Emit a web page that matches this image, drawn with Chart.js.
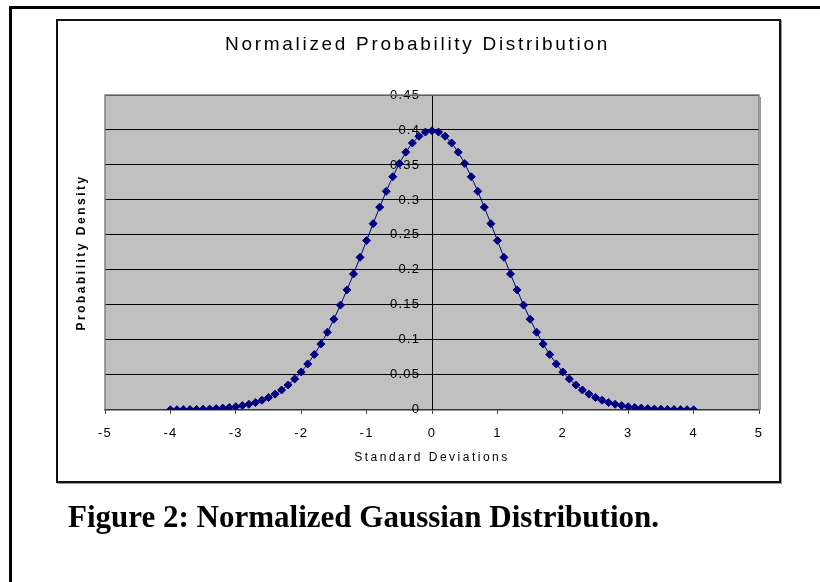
<!DOCTYPE html>
<html>
<head>
<meta charset="utf-8">
<title>Normalized Probability Distribution</title>
<script src="https://cdn.jsdelivr.net/npm/chart.js@4.4.1/dist/chart.umd.min.js"></script>
<style>
  html, body { margin: 0; padding: 0; background: #fff; }
  body { width: 820px; height: 582px; position: relative; overflow: hidden; }
  #outer { position: absolute; left: 9px; top: 6px; width: 830px; height: 600px;
           border-left: 3px solid #000; border-top: 3px solid #000; }
  #frame { position: absolute; left: 56px; top: 19px; width: 721px; height: 460px;
           border: 2px solid #111; box-shadow: 1px 1px 0 #999; }
  #caption { position: absolute; left: 68px; top: 499px; font: bold 31px 'Liberation Serif', 'Times New Roman', serif;
             white-space: nowrap; color: #000; }
  #chart { position: absolute; left: 0; top: 0; }
</style>
</head>
<body>
<div id="outer"></div>
<div id="frame"></div>
<canvas id="chart" width="820" height="582"></canvas>
<div id="caption">Figure 2: Normalized Gaussian Distribution.</div>

<script>
// standard deviations (x) and probability density (y)
const stdDevs = [
  -4.0, -3.9, -3.8, -3.7, -3.6, -3.5, -3.4, -3.3, -3.2, -3.1,
  -3.0, -2.9, -2.8, -2.7, -2.6, -2.5, -2.4, -2.3, -2.2, -2.1,
  -2.0, -1.9, -1.8, -1.7, -1.6, -1.5, -1.4, -1.3, -1.2, -1.1,
  -1.0, -0.9, -0.8, -0.7, -0.6, -0.5, -0.4, -0.3, -0.2, -0.1,
  0.0, 0.1, 0.2, 0.3, 0.4, 0.5, 0.6, 0.7, 0.8, 0.9,
  1.0, 1.1, 1.2, 1.3, 1.4, 1.5, 1.6, 1.7, 1.8, 1.9,
  2.0, 2.1, 2.2, 2.3, 2.4, 2.5, 2.6, 2.7, 2.8, 2.9,
  3.0, 3.1, 3.2, 3.3, 3.4, 3.5, 3.6, 3.7, 3.8, 3.9,
  4.0
];
const density = [
  0.0001, 0.0002, 0.0003, 0.0004, 0.0006, 0.0009, 0.0012, 0.0017, 0.0024, 0.0033,
  0.0044, 0.0060, 0.0079, 0.0104, 0.0136, 0.0175, 0.0224, 0.0283, 0.0355, 0.0440,
  0.0540, 0.0656, 0.0790, 0.0940, 0.1109, 0.1295, 0.1497, 0.1714, 0.1942, 0.2179,
  0.2420, 0.2661, 0.2897, 0.3123, 0.3332, 0.3521, 0.3683, 0.3814, 0.3910, 0.3970,
  0.3989, 0.3970, 0.3910, 0.3814, 0.3683, 0.3521, 0.3332, 0.3123, 0.2897, 0.2661,
  0.2420, 0.2179, 0.1942, 0.1714, 0.1497, 0.1295, 0.1109, 0.0940, 0.0790, 0.0656,
  0.0540, 0.0440, 0.0355, 0.0283, 0.0224, 0.0175, 0.0136, 0.0104, 0.0079, 0.0060,
  0.0044, 0.0033, 0.0024, 0.0017, 0.0012, 0.0009, 0.0006, 0.0004, 0.0003, 0.0002,
  0.0001
];
const xRange = [-5, 5];
const yRange = [0, 0.45];

const chartTitle = 'Normalized Probability Distribution';
const xTitle = 'Standard Deviations';
const yTitle = 'Probability Density';

// the old Excel text is very widely spaced; pick a letter spacing by font size
const spacingBySize = { '19px': '2.7px', '13px': '1.2px', '12px': '2.5px' };
// y labels sit right against the crossing axis, so push them off it a bit
const yLabelGap = '\u00a0\u00a0\u200a';

const canvas = document.getElementById('chart');
const ctx = canvas.getContext('2d');
const fontDesc = Object.getOwnPropertyDescriptor(Object.getPrototypeOf(ctx), 'font');
Object.defineProperty(ctx, 'font', {
  get() { return fontDesc.get.call(this); },
  set(v) {
    fontDesc.set.call(this, v);
    const m = /(\d+(?:\.\d+)?px)/.exec(v);
    this.letterSpacing = (m && spacingBySize[m[1]]) || '0px';
  }
});

const plotArea = {
  id: 'plotArea',
  beforeDraw(chart) {
    const { left, top, width, height } = chart.chartArea;
    const c = chart.ctx;
    c.save();
    c.fillStyle = '#c0c0c0';
    c.fillRect(left, top, width, height);
    c.restore();
  },
  beforeDatasetsDraw(chart) {
    const { left, top, right, bottom } = chart.chartArea;
    const c = chart.ctx;
    c.save();
    c.strokeStyle = '#9a9a9a';
    c.lineWidth = 1;
    c.beginPath();
    c.moveTo(right + 1.5, top + 2);
    c.lineTo(right + 1.5, bottom);
    c.stroke();
    c.strokeStyle = '#808080';
    c.lineWidth = 1.5;
    c.beginPath();
    c.moveTo(left, bottom);
    c.lineTo(left, top);
    c.lineTo(right, top);
    c.lineTo(right, bottom);
    c.stroke();
    c.restore();
  }
};

Chart.defaults.font.family = "'Liberation Sans', Arial, sans-serif";
Chart.defaults.color = '#000';

new Chart(ctx, {
  type: 'scatter',
  data: {
    datasets: [{
      data: stdDevs.map((x, i) => ({ x, y: density[i] })),
      showLine: true,
      borderColor: '#000080',
      borderWidth: 1,
      pointStyle: 'rectRot',
      pointRadius: 4,
      pointBorderWidth: 1,
      pointBackgroundColor: '#000080',
      pointBorderColor: '#000080'
    }]
  },
  options: {
    responsive: false,
    animation: false,
    layout: { padding: { left: 76, right: 61, top: 0, bottom: 113.4 } },
    plugins: {
      legend: { display: false },
      tooltip: { enabled: false },
      title: {
        display: true,
        text: chartTitle,
        color: '#000',
        font: { size: 19, weight: 'normal' },
        padding: { top: 33.6, bottom: 38.6 }
      }
    },
    scales: {
      x: {
        type: 'linear',
        min: xRange[0],
        max: xRange[1],
        ticks: { stepSize: 1, padding: 11.8, font: { size: 13 }, color: '#000' },
        grid: { drawOnChartArea: false, drawTicks: true, tickLength: 4, color: '#333' },
        border: { color: '#333', width: 1.5 },
        title: {
          display: true,
          text: xTitle,
          color: '#000',
          font: { size: 12 },
          padding: { top: -2.8, bottom: 4 }
        }
      },
      y: {
        type: 'linear',
        position: { x: 0 },
        min: yRange[0],
        max: yRange[1],
        ticks: {
          stepSize: 0.05,
          font: { size: 13 },
          color: '#000',
          callback: v => String(parseFloat(v.toFixed(2))) + yLabelGap
        },
        grid: { color: '#000', lineWidth: 1, tickLength: 4 },
        border: { color: '#000', width: 1 }
      },
      yTitle: {
        type: 'linear',
        position: 'left',
        min: yRange[0],
        max: yRange[1],
        grid: { display: false, drawTicks: false },
        border: { display: false },
        ticks: { display: false },
        title: {
          display: true,
          text: yTitle,
          color: '#000',
          font: { size: 12, weight: 'bold', lineHeight: 1 },
          padding: { top: 0, bottom: 17 }
        }
      }
    }
  },
  plugins: [plotArea]
});
</script>
</body>
</html>
